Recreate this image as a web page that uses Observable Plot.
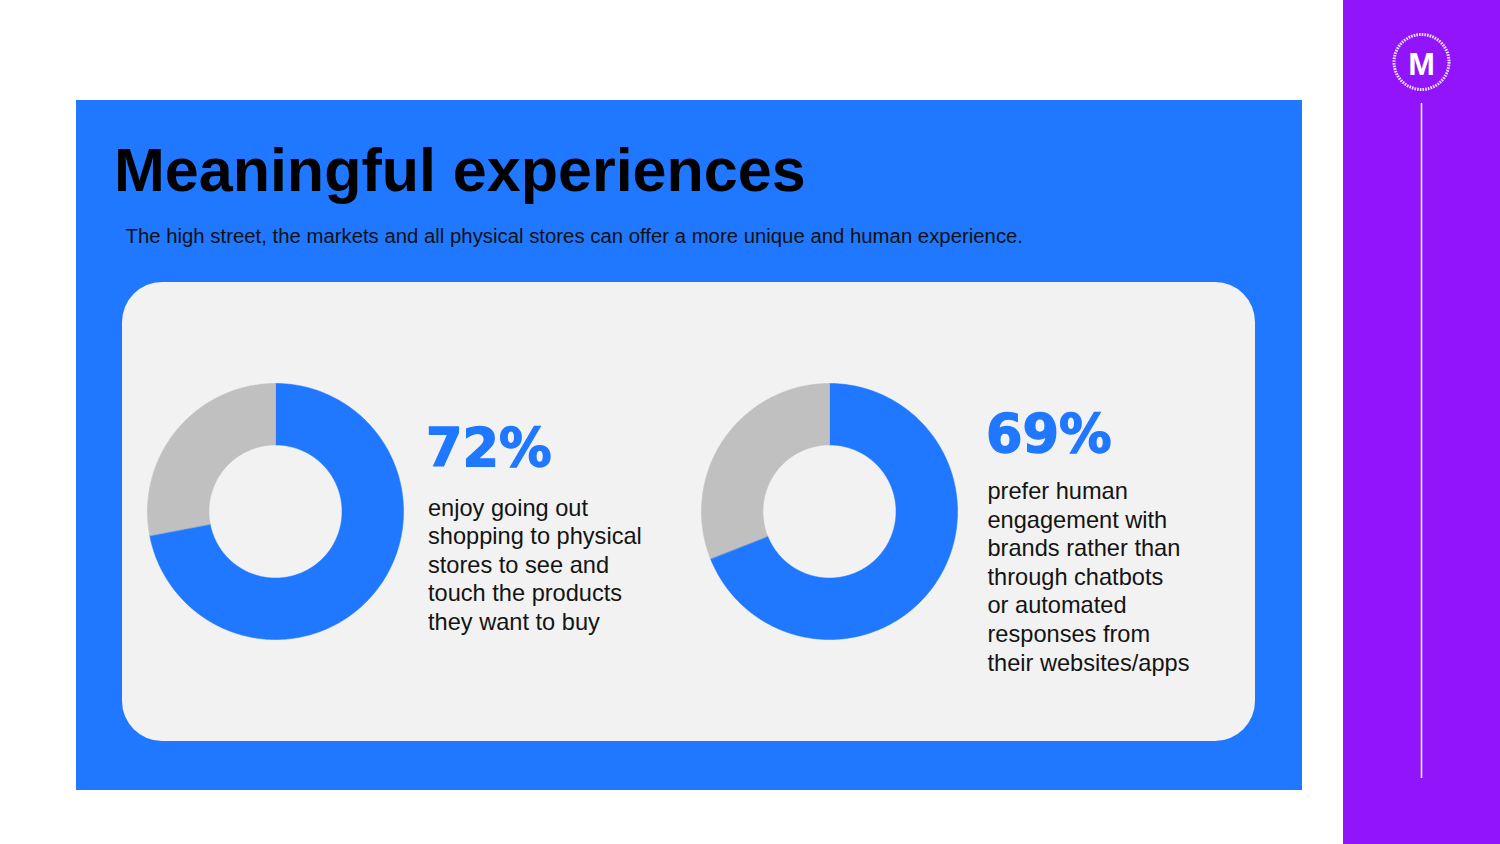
<!DOCTYPE html>
<html>
<head>
<meta charset="utf-8">
<script src="https://cdn.jsdelivr.net/npm/d3@7"></script>
<script src="https://cdn.jsdelivr.net/npm/@observablehq/plot@0.6"></script>
<style>
html,body{margin:0;padding:0;background:#fff;}
body{width:1500px;height:844px;position:relative;overflow:hidden;font-family:"Liberation Sans",Arial,sans-serif;}
.abs{position:absolute;}
#blue{left:76px;top:100px;width:1226px;height:690px;background:#1f78ff;}
#panel{left:122px;top:282px;width:1133px;height:459px;background:#f2f2f2;border-radius:40px;}
#side{left:1343px;top:0;width:157px;height:844px;background:#9214fa;}
#title{left:114px;top:139.5px;font-size:61px;font-weight:700;line-height:1;color:#000;white-space:nowrap;}
#subtitle{left:125.5px;top:226px;font-size:20.35px;line-height:1;color:#111;white-space:nowrap;}
.pct{font-family:"DejaVu Sans",sans-serif;font-weight:700;font-size:52.5px;line-height:1;color:#1f78ff;white-space:nowrap;-webkit-text-stroke:1.4px #1f78ff;}
.desc{font-size:23.6px;line-height:28.6px;color:#141414;white-space:nowrap;}
.donut{width:260px;height:260px;}
</style>
</head>
<body>
<div id="blue" class="abs"></div>
<div id="panel" class="abs"></div>
<div id="side" class="abs"></div>
<svg class="abs" style="left:1343px;top:0" width="157" height="844">
  <circle cx="78.5" cy="62" r="27.5" fill="none" stroke="#fff" stroke-width="3" stroke-dasharray="1.6 1.1" opacity="0.9"></circle>
  <text x="78.5" y="75" text-anchor="middle" font-family="Liberation Sans" font-weight="700" font-size="32" fill="#fff">M</text>
  <line x1="78.5" x2="78.5" y1="103" y2="778" stroke="#fff" stroke-width="1.5"></line>
</svg>
<div id="title" class="abs">Meaningful experiences</div>
<div id="subtitle" class="abs">The high street, the markets and all physical stores can offer a more unique and human experience.</div>

<div id="donut0" class="abs donut" style="left:145px;top:381px;"></div>
<div id="donut1" class="abs donut" style="left:699px;top:381px;"></div>
<div id="pct0" class="abs pct" style="left:426px;top:422px;"></div>
<div id="pct1" class="abs pct" style="left:986px;top:408px;"></div>
<div id="desc0" class="abs desc" style="left:428px;top:493.5px;"></div>
<div id="desc1" class="abs desc" style="left:987.5px;top:477px;"></div>

<script>
// ---- data ----
const statValues = [72, 69];
const statLabels = ["72%", "69%"];
const statLines = [
  ["enjoy going out", "shopping to physical", "stores to see and", "touch the products", "they want to buy"],
  ["prefer human", "engagement with", "brands rather than", "through chatbots", "or automated", "responses from", "their websites/apps"]
];
const segmentNames = ["Agree", "Other"];
const segmentColors = ["#1f78ff", "#c0c0c0"];

const INNER = 0.52;

function ringPoints(value) {
  const pts = [];
  const parts = [[0, value / 100, segmentNames[0]], [value / 100, 1, segmentNames[1]]];
  for (const [t0, t1, name] of parts) {
    const n = Math.max(2, Math.ceil((t1 - t0) * 720));
    for (let i = 0; i <= n; i++) {
      const a = 2 * Math.PI * (t0 + (t1 - t0) * i / n);
      pts.push({seg: name, x: Math.sin(a), y: Math.cos(a)});
    }
    for (let i = n; i >= 0; i--) {
      const a = 2 * Math.PI * (t0 + (t1 - t0) * i / n);
      pts.push({seg: name, x: INNER * Math.sin(a), y: INNER * Math.cos(a)});
    }
  }
  return pts;
}

statValues.forEach((v, k) => {
  const chart = Plot.plot({
    width: 260,
    height: 260,
    margin: 2,
    x: {domain: [-1, 1], axis: null},
    y: {domain: [-1, 1], axis: null},
    color: {domain: segmentNames, range: segmentColors},
    style: {background: "transparent"},
    marks: [
      Plot.line(ringPoints(v), {x: "x", y: "y", z: "seg", fill: "seg", stroke: "seg", strokeWidth: 0.6, curve: "linear-closed"})
    ]
  });
  document.getElementById("donut" + k).appendChild(chart);
  document.getElementById("pct" + k).textContent = statLabels[k];
  document.getElementById("desc" + k).innerHTML = statLines[k].join("<br>");
});
</script>
</body>
</html>
